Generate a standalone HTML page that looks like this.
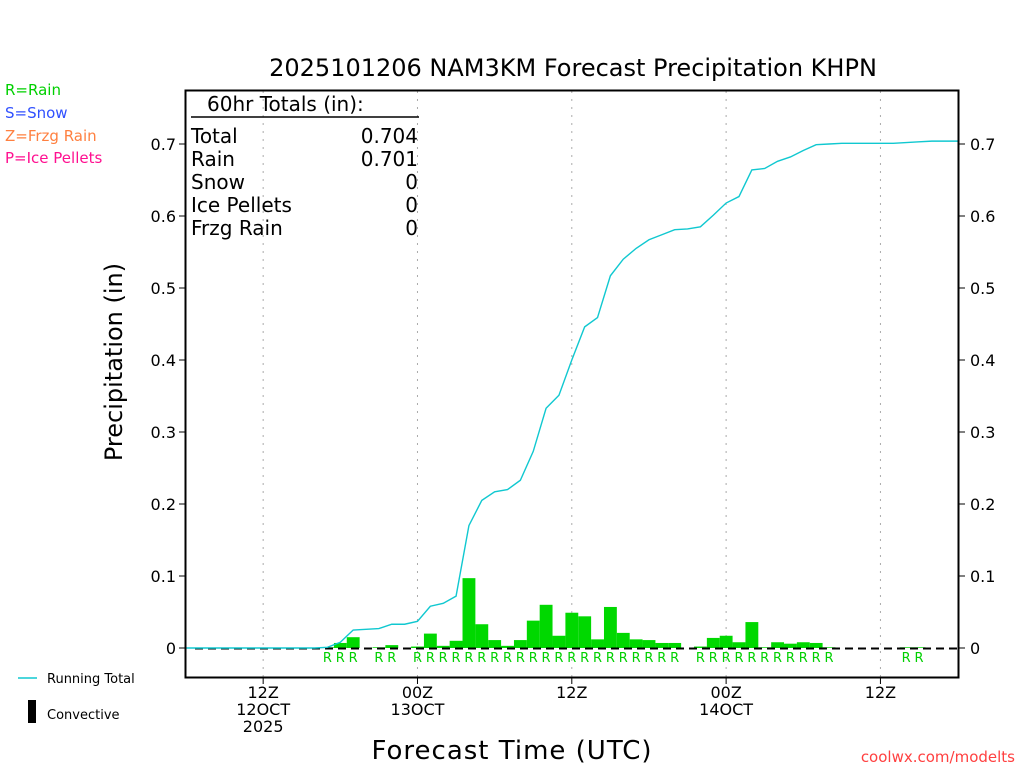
<!DOCTYPE html>
<html><head><meta charset="utf-8"><style>
body{margin:0;background:#fff;width:1024px;height:768px;overflow:hidden}
svg text{font-family:"DejaVu Sans","Liberation Sans",sans-serif}
</style></head><body>
<svg id="c" width="1024" height="768" xmlns="http://www.w3.org/2000/svg">
<text x="573" y="76" font-size="24" text-anchor="middle">2025101206 NAM3KM Forecast Precipitation KHPN</text>
<g font-size="15">
<text x="5" y="95" fill="#00d000">R=Rain</text>
<text x="5" y="118" fill="#3050ff">S=Snow</text>
<text x="5" y="141" fill="#ff8040">Z=Frzg Rain</text>
<text x="5" y="163" fill="#ff1090">P=Ice Pellets</text>
</g>
<g id="grid"></g>
<g id="bars"></g>
<line x1="195" y1="648.5" x2="958" y2="648.5" stroke="#000" stroke-width="2" stroke-dasharray="8,5"/>
<polyline id="line" fill="none" stroke="#10c8d0" stroke-width="1.4"/>
<g id="labels"></g>
<rect x="185.5" y="90.5" width="773" height="587" fill="none" stroke="#000" stroke-width="2"/>
<g id="axes" font-size="16"></g>
<g font-size="20">
<text x="207" y="111" font-size="20">60hr Totals (in):</text>
<line x1="191" y1="117" x2="419" y2="117" stroke="#000" stroke-width="1.5"/>
<text x="191" y="143">Total</text><text x="418" y="143" text-anchor="end">0.704</text>
<text x="191" y="166">Rain</text><text x="418" y="166" text-anchor="end">0.701</text>
<text x="191" y="189">Snow</text><text x="418" y="189" text-anchor="end">0</text>
<text x="191" y="212">Ice Pellets</text><text x="418" y="212" text-anchor="end">0</text>
<text x="191" y="235">Frzg Rain</text><text x="418" y="235" text-anchor="end">0</text>
</g>
<text transform="translate(122,362) rotate(-90)" font-size="24" text-anchor="middle">Precipitation (in)</text>
<text x="512" y="759" font-size="26" text-anchor="middle" letter-spacing="1">Forecast Time (UTC)</text>
<text x="1015" y="762" font-size="15" fill="#ff4040" text-anchor="end">coolwx.com/modelts</text>
<line x1="18" y1="678" x2="37" y2="678" stroke="#10c8d0" stroke-width="1.4"/>
<text x="47" y="683" font-size="13">Running Total</text>
<rect x="28" y="700" width="8" height="23" fill="#000"/>
<text x="47" y="719" font-size="13">Convective</text>
</svg>
<script>
const barHours=[11,12,13,15,16,18,19,20,21,22,23,24,25,26,27,28,29,30,31,32,33,34,35,36,37,38,40,41,42,43,44,45,46,47,48,49,50,56,57];
const barValues=[0.001,0.007,0.015,0.001,0.004,0.002,0.020,0.003,0.010,0.097,0.033,0.011,0.003,0.011,0.038,0.060,0.017,0.049,0.044,0.012,0.057,0.021,0.012,0.011,0.007,0.007,0.002,0.014,0.017,0.008,0.036,0.001,0.008,0.006,0.008,0.007,0.001,0.001,0.001];
const runningTotal=[0,0,0,0,0,0,0,0,0,0,0,0.001,0.008,0.025,0.026,0.027,0.033,0.033,0.037,0.058,0.062,0.072,0.170,0.205,0.217,0.220,0.233,0.273,0.333,0.351,0.400,0.446,0.459,0.517,0.540,0.555,0.567,0.574,0.581,0.582,0.585,0.601,0.618,0.627,0.664,0.666,0.676,0.682,0.691,0.699,0.700,0.701,0.701,0.701,0.701,0.701,0.702,0.703,0.704,0.704,0.704];
const yTicks=[0,0.1,0.2,0.3,0.4,0.5,0.6,0.7];
const xTickHours=[6,18,30,42,54];
const xTickLabels=[["12Z","12OCT","2025"],["00Z","13OCT"],["12Z"],["00Z","14OCT"],["12Z"]];
const NS="http://www.w3.org/2000/svg";
const X=h=>186+h*12.86, Y=v=>648-v*720;
function mk(t,a,p){const e=document.createElementNS(NS,t);for(const k in a)e.setAttribute(k,a[k]);p.appendChild(e);return e;}
const grid=document.getElementById('grid'),bars=document.getElementById('bars'),labels=document.getElementById('labels'),axes=document.getElementById('axes');
xTickHours.forEach((h,i)=>{
 const g=mk('line',{x1:X(h),x2:X(h),y1:91,y2:677,stroke:'#aaa','stroke-dasharray':'2,6'},grid);
 
 
 mk('line',{x1:X(h),x2:X(h),y1:677,y2:684,stroke:'#000'},axes);
 xTickLabels[i].forEach((s,j)=>{const t=mk('text',{x:X(h),y:698+j*17,'text-anchor':'middle'},axes);t.textContent=s;
 
 });
});
yTicks.forEach(v=>{
 mk('line',{x1:179,x2:186,y1:Y(v),y2:Y(v),stroke:'#000'},axes);
 mk('line',{x1:958,x2:965,y1:Y(v),y2:Y(v),stroke:'#000'},axes);
 const a=mk('text',{x:176,y:Y(v)+6,'text-anchor':'end'},axes);a.textContent=v===0?'0':v.toFixed(1);
 
 
 const b=mk('text',{x:970,y:Y(v)+6},axes);b.textContent=v===0?'0':v.toFixed(1);
 
 
});
barHours.forEach((h,i)=>{
 const r=mk('rect',{x:X(h)-6.4,y:Y(barValues[i]),width:12.86,height:648-Y(barValues[i]),fill:'#00d800'},bars);
 
 
 const t=mk('text',{x:X(h),y:662,'text-anchor':'middle','font-size':'13',fill:'#00d000'},labels);t.textContent='R';
 
 
});
document.getElementById('line').setAttribute('points',runningTotal.map((v,h)=>X(h)+','+Y(v)).join(' '));
</script>
</body></html>
